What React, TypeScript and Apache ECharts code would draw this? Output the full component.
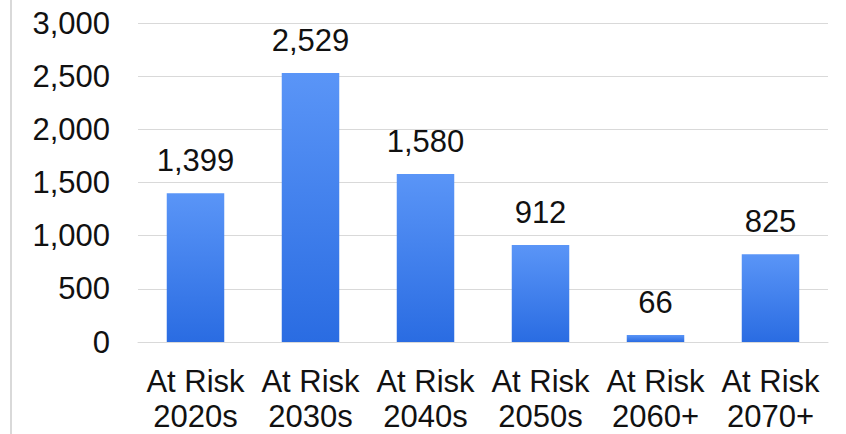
import React, { useEffect, useRef } from "react";
import * as echarts from "echarts";

const categories = ["At Risk\n2020s", "At Risk\n2030s", "At Risk\n2040s", "At Risk\n2050s", "At Risk\n2060+", "At Risk\n2070+"];
const values = [1399, 2529, 1580, 912, 66, 825];
const yTicks = { min: 0, max: 3000, interval: 500 };

const fmt = (v: number) => v.toLocaleString("en-US");

export default function App() {
  const ref = useRef<HTMLDivElement>(null);
  useEffect(() => {
    if (!ref.current) return;
    const chart = echarts.init(ref.current, null, { renderer: "svg" });
    const font = "Liberation Sans, Arial, sans-serif";
    chart.setOption({
      animation: false,
      backgroundColor: "#ffffff",
      grid: { left: 138, right: 18, top: 23, bottom: 91, containLabel: false },
      graphic: [
        { type: "line", shape: { x1: 11, y1: 0, x2: 11, y2: 434 }, style: { stroke: "#d9d9d9", lineWidth: 2 } },
      ],
      xAxis: {
        type: "category",
        data: categories,
        axisLine: { show: true, lineStyle: { color: "#d9d9d9", width: 1 } },
        axisTick: { show: false },
        axisLabel: { fontFamily: font, fontSize: 31, color: "#111", lineHeight: 35, margin: 22, interval: 0 },
      },
      yAxis: {
        type: "value",
        min: yTicks.min,
        max: yTicks.max,
        interval: yTicks.interval,
        axisLine: { show: false },
        axisTick: { show: false },
        splitLine: { lineStyle: { color: "#d9d9d9", width: 1 } },
        axisLabel: { fontFamily: font, fontSize: 31, color: "#111", margin: 28, formatter: (v: number) => fmt(v) },
      },
      series: [
        {
          type: "bar",
          data: values,
          barWidth: "50%",
          itemStyle: {
            color: new echarts.graphic.LinearGradient(0, 0, 0, 1, [
              { offset: 0, color: "#5a95f7" },
              { offset: 1, color: "#2a6ce2" },
            ]),
          },
          label: {
            show: true,
            position: "top",
            distance: 17,
            fontFamily: font,
            fontSize: 31,
            color: "#111",
            formatter: (p: any) => fmt(p.value),
          },
        },
      ],
    });
    return () => chart.dispose();
  }, []);
  return <div ref={ref} style={{ position: "fixed", left: 0, top: 0, width: 846, height: 434 }} />;
}
